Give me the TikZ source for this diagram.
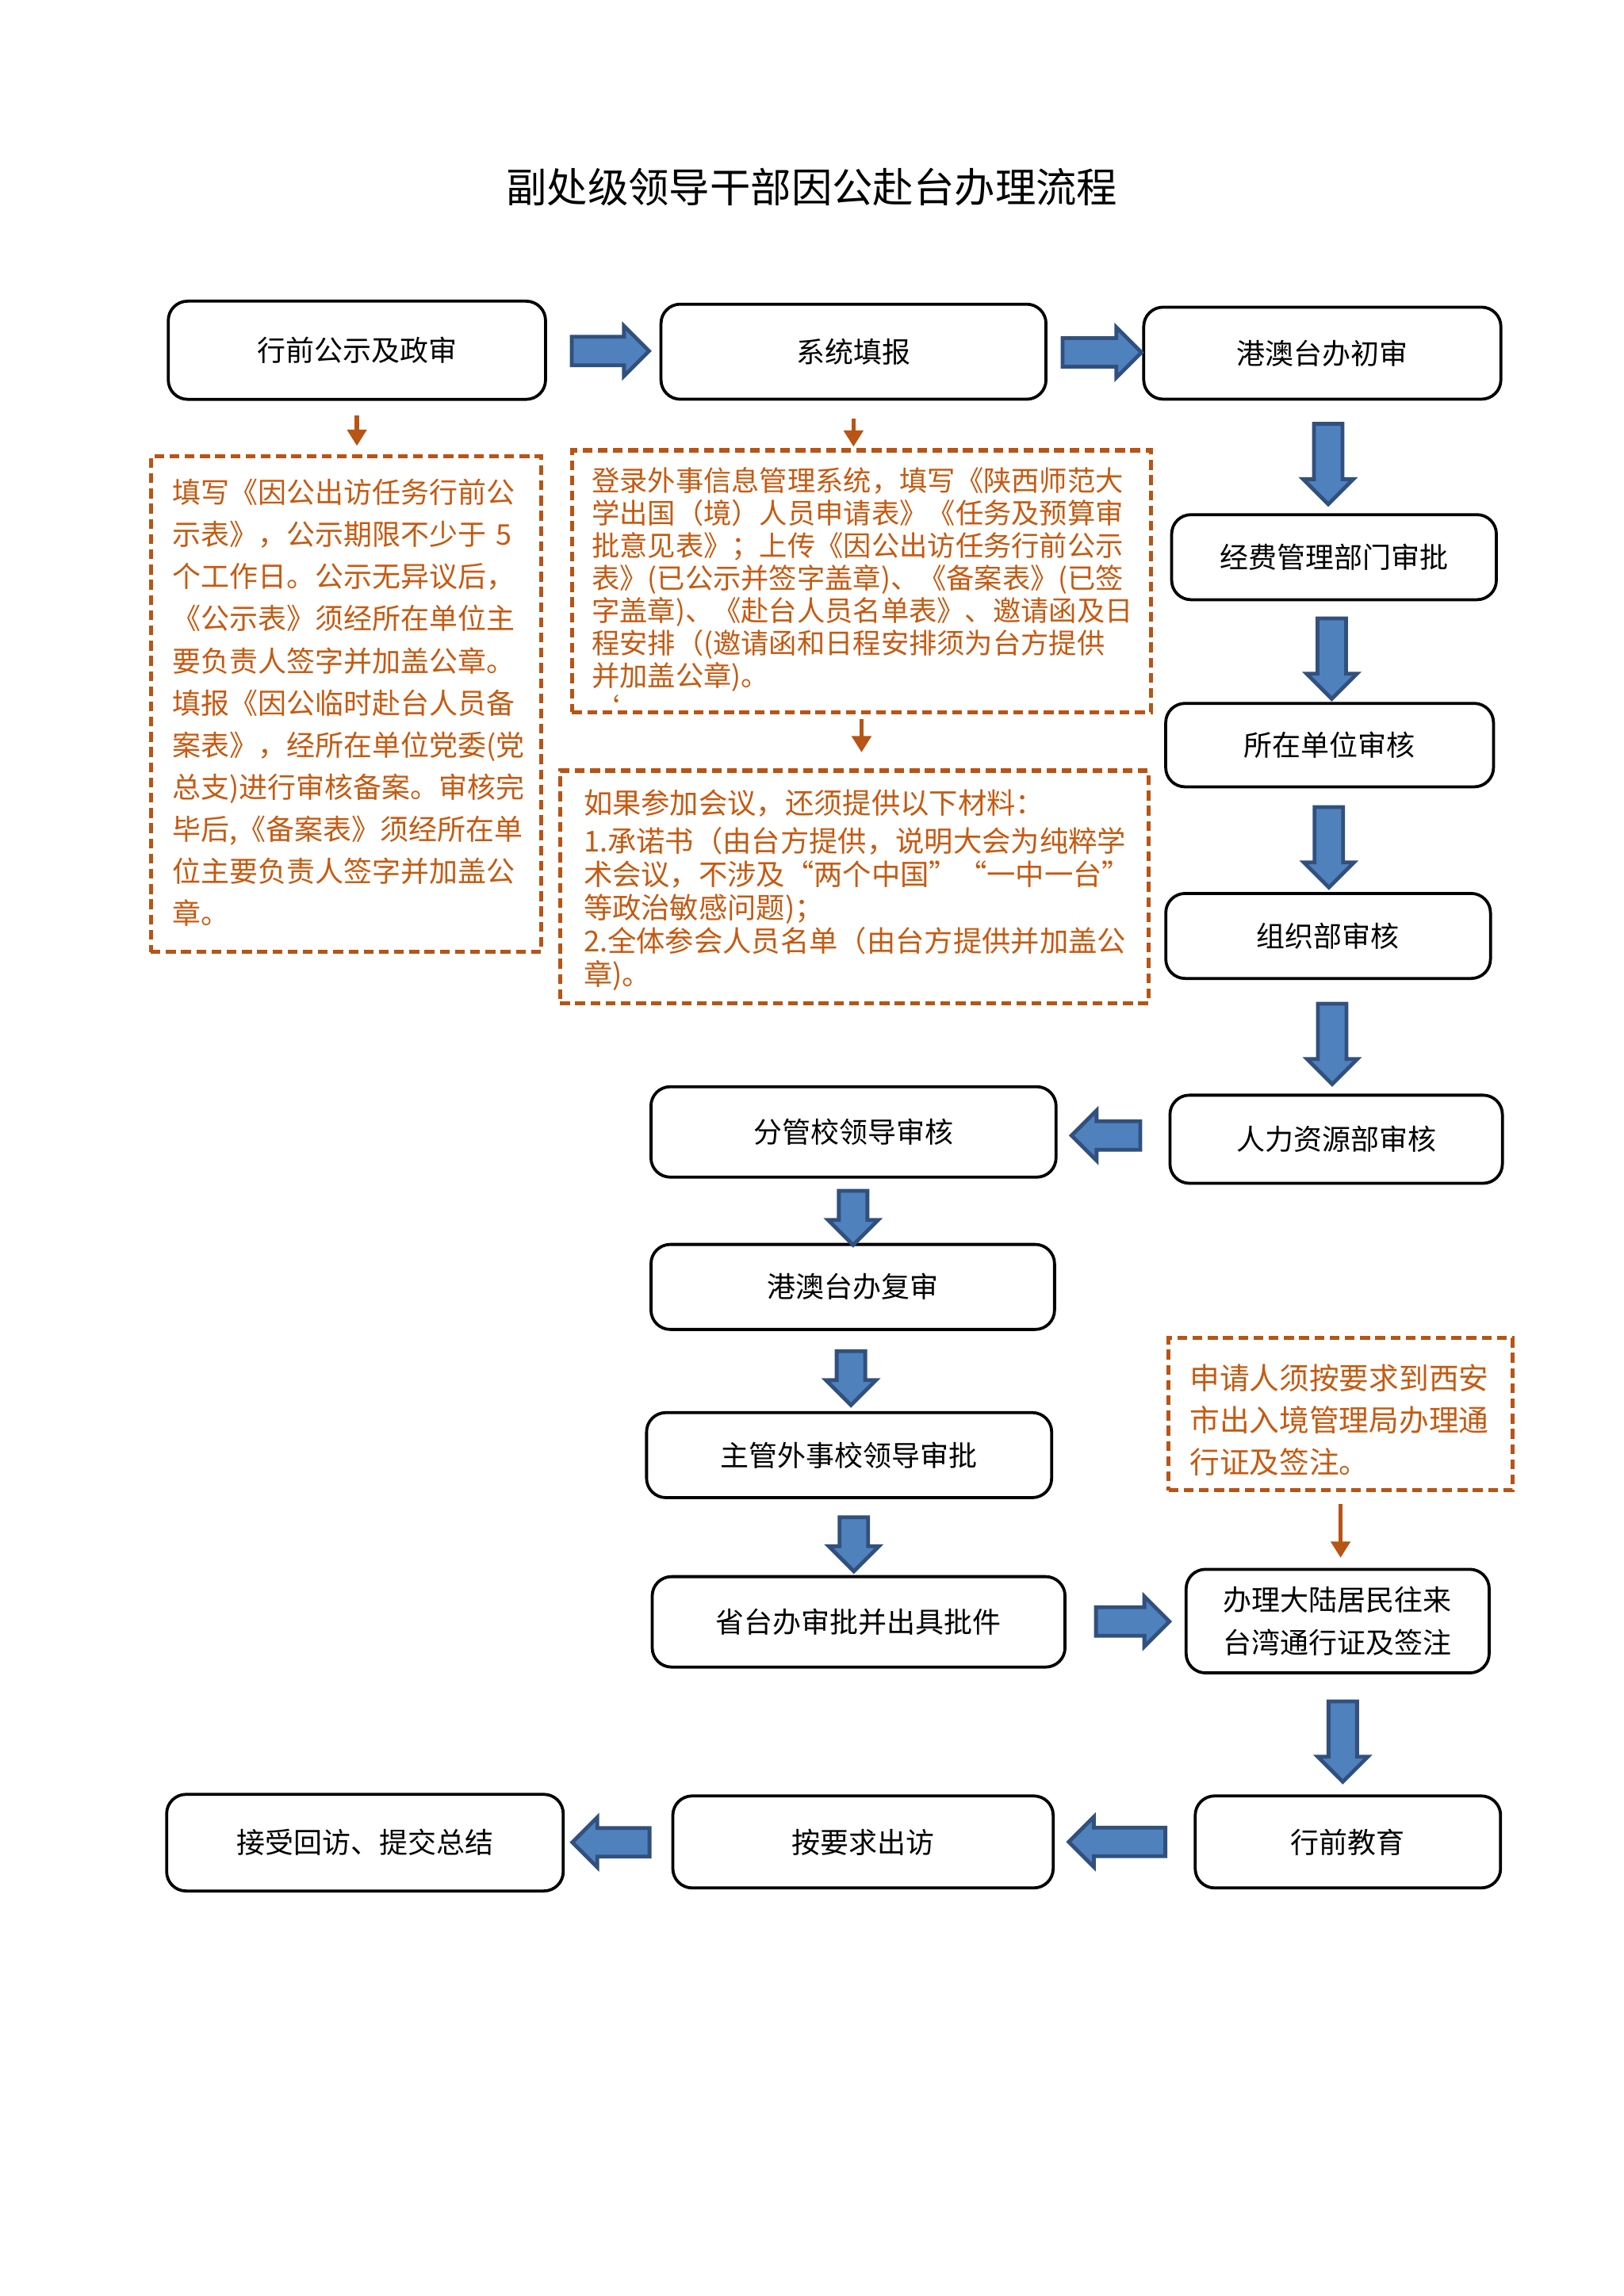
\documentclass[tikz,border=0pt]{standalone}
\usepackage{fontspec}
\setmainfont{Noto Sans CJK SC}
\usetikzlibrary{positioning,calc,arrows.meta,shapes.arrows}
\definecolor{notecol}{RGB}{197,90,17}
\definecolor{notedraw}{RGB}{184,84,20}
\definecolor{arrowfill}{RGB}{79,129,189}
\definecolor{arrowline}{RGB}{49,80,125}

\begin{document}
\begin{tikzpicture}[x=0.018919cm, y=-0.018919cm,
    stepbox/.style={draw, line width=1.1pt, rounded corners=0.25cm, align=center,
        font=\fontsize{10.5pt}{16pt}\selectfont},
    notebox/.style={draw=notedraw, line width=1.5pt, dash pattern=on 3.6pt off 2pt, inner sep=0pt},
    notetext/.style={text=notecol, align=left, inner sep=0pt},
    blockarrow/.style={single arrow, draw=arrowline, fill=arrowfill, line width=1.4pt,
        inner xsep=0pt, inner ysep=0.16cm, single arrow head extend=0.14cm},
    notearrow/.style={draw=notedraw, line width=1.6pt, -{Triangle[width=7pt,length=6pt]}}]
    \useasboundingbox (0,0) rectangle (1110,1570);

    \node[font=\fontsize{15pt}{18pt}\selectfont] (title) at (555,128) {副处级领导干部因公赴台办理流程};

    % top row
    \node[stepbox, minimum width=4.88cm, minimum height=1.27cm] (b1) at (244,239.5) {行前公示及政审};
    \node[stepbox, minimum width=4.98cm, minimum height=1.23cm] (b2) at (583.5,240.5) {系统填报};
    \node[stepbox, minimum width=4.62cm, minimum height=1.19cm] (b3) at (904,241.5) {港澳台办初审};

    % right column
    \node[stepbox, minimum width=4.20cm, minimum height=1.10cm] (b4) at (912,381) {经费管理部门审批};
    \node[stepbox, minimum width=4.24cm, minimum height=1.08cm] (b5) at (909,509.5) {所在单位审核};
    \node[stepbox, minimum width=4.20cm, minimum height=1.10cm] (b6) at (908,640) {组织部审核};
    \node[stepbox, minimum width=4.30cm, minimum height=1.14cm] (b7) at (913.5,779) {人力资源部审核};

    % middle column
    \node[stepbox, minimum width=5.24cm, minimum height=1.17cm] (b8) at (583.5,774) {分管校领导审核};
    \node[stepbox, minimum width=5.22cm, minimum height=1.10cm] (b9) at (583,880) {港澳台办复审};
    \node[stepbox, minimum width=5.24cm, minimum height=1.10cm] (b10) at (580.5,995) {主管外事校领导审批};
    \node[stepbox, minimum width=5.34cm, minimum height=1.17cm] (b11) at (587,1109) {省台办审批并出具批件};
    \node[stepbox, minimum width=3.92cm, minimum height=1.34cm] (b12) at (914.5,1108.5) {办理大陆居民往来\\台湾通行证及签注};

    % bottom row
    \node[stepbox, minimum width=3.95cm, minimum height=1.19cm] (b13) at (921.5,1259.5) {行前教育};
    \node[stepbox, minimum width=4.92cm, minimum height=1.19cm] (b14) at (590,1259.5) {按要求出访};
    \node[stepbox, minimum width=5.13cm, minimum height=1.25cm] (b15) at (249.5,1260) {接受回访、提交总结};

    % notes: dashed frame, then its text
    \node[notebox, minimum width=5.05cm, minimum height=6.41cm] (n1) at (236.5,481.5) {};
    \node[notetext, text width=4.48cm, font=\fontsize{10.5pt}{15.5pt}\selectfont] (n1t) at ($(n1.center)+(0,-1)$)
        {填写《因公出访任务行前公\\示表》，公示期限不少于 5\\个工作日。公示无异议后，\\《公示表》须经所在单位主\\要负责人签字并加盖公章。\\填报《因公临时赴台人员备\\案表》，经所在单位党委(党\\总支)进行审核备案。审核完\\毕后,《备案表》须经所在单\\位主要负责人签字并加盖公\\章。};
    \node[notebox, minimum width=7.49cm, minimum height=3.39cm] (n2) at (589,397.5) {};
    \node[notetext, text width=6.98cm, font=\fontsize{10.3pt}{12pt}\selectfont] (n2t) at ($(n2.center)+(0,8)$)
        {登录外事信息管理系统，填写《陕西师范大\\学出国（境）人员申请表》《任务及预算审\\批意见表》；上传《因公出访任务行前公示\\表》(已公示并签字盖章)、《备案表》(已签\\字盖章)、《赴台人员名单表》、邀请函及日\\程安排（(邀请函和日程安排须为台方提供\\并加盖公章)。\\{\char"60}};
    \node[notebox, minimum width=7.61cm, minimum height=3.01cm] (n3) at (584,606.5) {};
    \node[notetext, text width=7.0cm, font=\fontsize{10.6pt}{12.2pt}\selectfont] (n3t) at ($(n3.center)+(0,2)$)
        {如果参加会议，还须提供以下材料：\\[2pt]1.承诺书（由台方提供，说明大会为纯粹学\\术会议，不涉及“两个中国”“一中一台”\\等政治敏感问题)；\\2.全体参会人员名单（由台方提供并加盖公\\章)。};
    \node[notebox, minimum width=4.45cm, minimum height=1.97cm] (n4) at (916.5,967) {};
    \node[notetext, text width=3.9cm, font=\fontsize{11pt}{15.5pt}\selectfont] (n4t) at ($(n4.center)+(0,4)$)
        {申请人须按要求到西安\\市出入境管理局办理通\\行证及签注。};

    % blue block arrows
    \node[blockarrow, minimum height=1.0cm] (a12) at ($(b1.east)!0.5!(b2.west)$) {};
    \node[blockarrow, minimum height=1.02cm] (a23) at ($(b2.east)!0.5!(b3.west)$) {};
    \foreach \s/\t in {b3/b4,b4/b5,b5/b6,b6/b7,b12/b13}
        \node[blockarrow, rotate=-90, minimum height=1.04cm] at ($(\s.south)!0.5!(\t.north)$) {};
    \foreach \s/\t in {b8/b9,b9/b10,b10/b11}
        \node[blockarrow, rotate=-90, minimum height=0.7cm] at ($(\s.south)!0.5!(\t.north)$) {};
    \node[blockarrow, rotate=180, minimum height=0.89cm] (a78) at ($(b7.west)!0.5!(b8.east)$) {};
    \node[blockarrow, minimum height=0.95cm] (a1112) at ($(b11.east)!0.5!(b12.west)$) {};
    \node[blockarrow, rotate=180, minimum height=1.25cm] (a1314) at ($(b13.west)!0.5!(b14.east)$) {};
    \node[blockarrow, rotate=180, minimum height=1.0cm] (a1415) at ($(b14.west)!0.5!(b15.east)$) {};

    % orange arrows
    \draw[notearrow, shorten <=0.19cm, shorten >=0.11cm] (b1.south) -- (b1.south |- n1.north);
    \draw[notearrow, shorten <=0.23cm, shorten >=0.02cm] (b2.south) -- (b2.south |- n2.north);
    \draw[notearrow, shorten <=0.06cm, shorten >=0.21cm] (n2.south) -- (n2.south |- n3.north);
    \draw[notearrow, shorten <=0.15cm, shorten >=0.13cm] (n4.south) -- (n4.south |- b12.north);
\end{tikzpicture}
\end{document}
